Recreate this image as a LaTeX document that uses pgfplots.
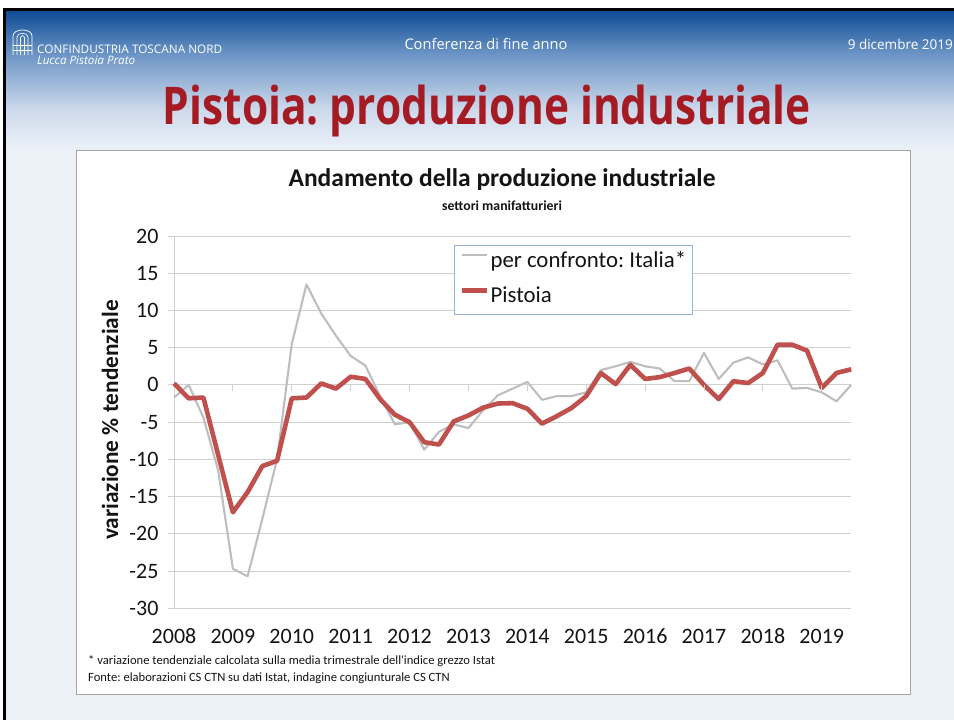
\documentclass[border=0pt]{standalone}
\usepackage{pgfplots}
\pgfplotsset{compat=1.18}
\usepackage{fontspec}
\setmainfont{Carlito}
\newfontfamily\osans{Open Sans}
\definecolor{hA}{RGB}{14,76,148}
\definecolor{hB}{RGB}{110,150,198}
\definecolor{hC}{RGB}{205,218,236}
\definecolor{bglight}{RGB}{236,241,248}
\definecolor{titlered}{RGB}{165,27,35}
\definecolor{gridgray}{RGB}{208,208,208}
\definecolor{italygray}{RGB}{190,190,190}
\definecolor{pistred}{RGB}{192,80,77}
\definecolor{legendblue}{RGB}{150,180,215}
\definecolor{boxgray}{RGB}{165,165,165}
\definecolor{textblack}{RGB}{20,20,20}
\frenchspacing

\pgfplotstableread{
i italia pistoia
0 -1.7 0.2
1 0.0 -1.8
2 -4.4 -1.7
3 -11.5 -9.4
4 -24.7 -17.1
5 -25.7 -14.4
6 -18.0 -10.9
7 -10.0 -10.2
8 5.5 -1.8
9 13.5 -1.7
10 9.6 0.2
11 6.6 -0.5
12 3.9 1.1
13 2.6 0.8
14 -1.5 -1.9
15 -5.3 -4.0
16 -5.0 -5.0
17 -8.7 -7.7
18 -6.3 -8.0
19 -5.3 -4.9
20 -5.8 -4.1
21 -3.4 -3.05
22 -1.4 -2.5
23 -0.5 -2.45
24 0.4 -3.2
25 -2.0 -5.2
26 -1.5 -4.2
27 -1.5 -3.1
28 -1.0 -1.5
29 2.0 1.6
30 2.5 0.1
31 3.1 2.7
32 2.5 0.8
33 2.2 1.05
34 0.5 1.6
35 0.5 2.2
36 4.3 0.0
37 0.8 -1.9
38 3.0 0.5
39 3.7 0.25
40 2.75 1.6
41 3.3 5.4
42 -0.5 5.4
43 -0.4 4.6
44 -1.0 -0.4
45 -2.2 1.6
46 0.0 2.1
}\prodtable

\begin{document}
\begin{tikzpicture}[x=1pt,y=1pt]
\useasboundingbox (0,0) rectangle (954,720);
\fill[white] (0,0) rectangle (954,720);
\fill[bglight] (5,0) rectangle (954,709);
\shade[top color=hA, bottom color=hB] (5,665) rectangle (954,709);
\shade[top color=hB, bottom color=hC] (5,610) rectangle (954,665);
\shade[top color=hC, bottom color=bglight] (5,570) rectangle (954,610);
\fill[black] (3,709) rectangle (954,711.5);
\fill[black] (3,0) rectangle (5.5,711.5);

% logo (simplified)
\begin{scope}[white, line width=0.7pt]
\draw (13,665) -- (13,684) .. controls (13,692) and (32,692) .. (32,684) -- (32,665);
\draw (17,665) -- (17,683) .. controls (17,688) and (28,688) .. (28,683) -- (28,665);
\draw (20.5,665) -- (20.5,682) .. controls (20.5,685) and (24.5,685) .. (24.5,682) -- (24.5,665);
\draw (13,675) -- (32,675);
\draw (13,670) -- (32,670);
\end{scope}
\node[anchor=west, inner sep=0, text=white] at (37,670.5) {\resizebox{185pt}{!}{\osans CONFINDUSTRIA TOSCANA NORD}};
\node[anchor=west, inner sep=0, text=white] at (37,660) {\resizebox{98pt}{!}{\osans\itshape Lucca Pistoia Prato}};
\node[inner sep=0, text=white] at (486,676) {\resizebox{163pt}{!}{\osans Conferenza di fine anno}};
\node[anchor=east, inner sep=0, text=white] at (953,676) {\resizebox{105pt}{!}{\osans 9 dicembre 2019}};
\node[anchor=base, inner sep=0, text=titlered] at (487,595) {\resizebox{648pt}{39.5pt}{\osans\bfseries Pistoia: produzione industriale}};

% chart box
\draw[boxgray, line width=0.9pt, fill=white] (76,26) rectangle (910,570);

\node[font=\bfseries\fontsize{25.5}{30}\selectfont, text=textblack] at (502,540) {Andamento della produzione industriale};
\node[font=\bfseries\fontsize{13.8}{16}\selectfont, text=textblack] at (502,514) {settori manifatturieri};
\node[rotate=90, font=\bfseries\fontsize{23.3}{28}\selectfont, text=textblack] at (110,300) {variazione \% tendenziale};
\node[anchor=west, inner sep=0, font=\fontsize{12.6}{14}\selectfont, text=textblack] at (88,59) {* variazione tendenziale calcolata sulla media trimestrale dell\textquotesingle indice grezzo Istat};
\node[anchor=west, inner sep=0, font=\fontsize{12.6}{14}\selectfont, text=textblack] at (88,42) {Fonte: elaborazioni CS CTN su dati Istat, indagine congiunturale CS CTN};

\begin{axis}[
  at={(174pt,111.7pt)}, anchor=south west, scale only axis,
  width=677.2pt, height=372.3pt,
  xmin=0, xmax=46, ymin=-30, ymax=20,
  clip=false,
  axis lines*=left,
  axis line style={-, draw=gridgray, line width=0.9pt},
  ymajorgrids,
  grid style={draw=gridgray, line width=0.9pt},
  ytick={-30,-25,...,20},
  yticklabels={-30,-25,-20,-15,-10,-5,0,5,10,15,20},
  xtick={0,4,8,12,16,20,24,28,32,36,40,44},
  xticklabels={2008,2009,2010,2011,2012,2013,2014,2015,2016,2017,2018,2019},
  tick align=outside,
  major tick length=6pt,
  ytick style={draw=gridgray, line width=0.9pt},
  xtick style={draw=none},
  tick label style={font=\fontsize{22}{26}\selectfont, text=textblack},
  yticklabel style={xshift=-6pt},
  xticklabel style={text height=15pt, text depth=0pt, yshift=-11pt},
  legend style={at={(0.4136,0.9758)}, anchor=north west,
     draw=legendblue, line width=0.8pt, fill=white,
     inner xsep=5.5pt, inner ysep=0pt, row sep=1.2pt,
     font=\fontsize{22.8}{26}\selectfont,
     nodes={inner xsep=1pt, inner ysep=5pt, text height=17.3pt, text depth=6.5pt, text=textblack}},
  legend cell align=left,
  legend image code/.code={\draw[#1] (0pt,6.9pt) -- (25pt,6.9pt);},
]
\addplot[italygray, line width=2.1pt, line join=round] table[x=i, y=italia] {\prodtable};
\addlegendentry{per confronto: Italia*\hspace{5pt}}
\addplot[pistred, line width=4.6pt, line join=round] table[x=i, y=pistoia] {\prodtable};
\addlegendentry{Pistoia}
\pgfplotsinvokeforeach{4,8,...,44}{
  \draw[gridgray, line width=0.9pt] (axis cs:#1,0) -- ++(0pt,-6pt);
}
\end{axis}
\end{tikzpicture}
\end{document}
